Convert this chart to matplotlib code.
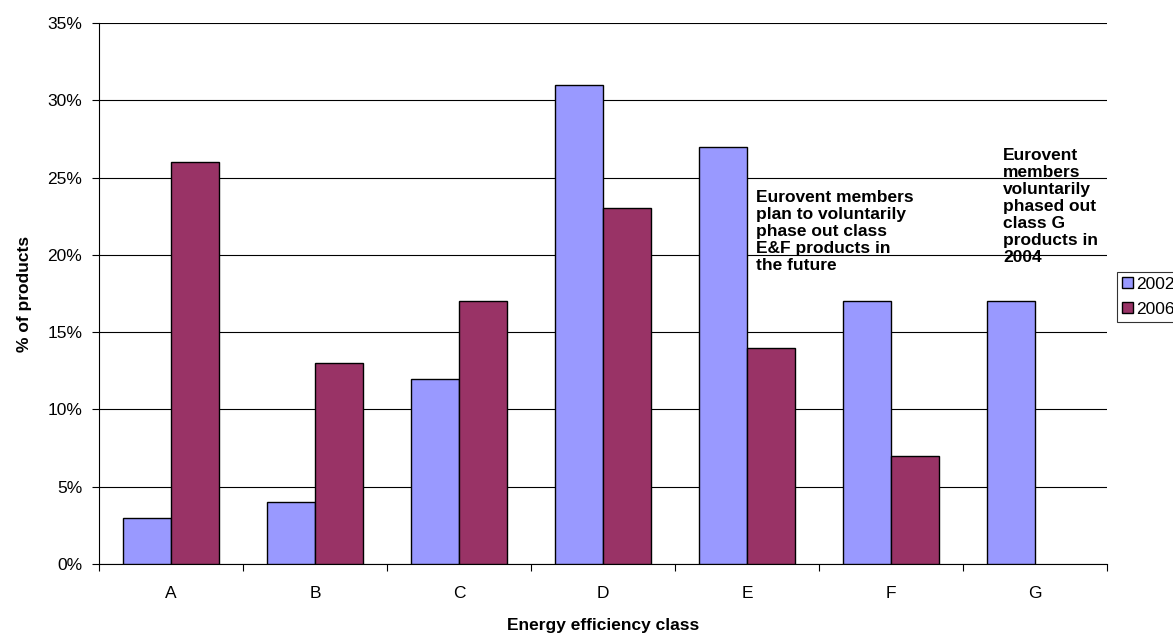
import matplotlib
matplotlib.use("Agg")
import matplotlib.pyplot as plt
import numpy as np
from matplotlib.ticker import FuncFormatter, FixedLocator

plt.rcParams['font.family'] = ['Liberation Sans', 'DejaVu Sans']

classes = ["A", "B", "C", "D", "E", "F", "G"]
share_2002 = [3, 4, 12, 31, 27, 17, 17]
share_2006 = [26, 13, 17, 23, 14, 7, 0]
series_labels = ["2002", "2006"]
yticks = [0, 5, 10, 15, 20, 25, 30, 35]

FS = 12.5

fig = plt.figure(figsize=(11.73, 6.34), dpi=100)
ax = fig.add_axes([0.0844, 0.1104, 0.8593, 0.8533])

x = np.arange(len(classes))
w = 1 / 3
ax.bar(x - w / 2, share_2002, width=w, color="#9999FF", edgecolor="black",
       linewidth=1.0, label=series_labels[0], zorder=3)
mask = np.array(share_2006) > 0
ax.bar(x[mask] + w / 2, np.array(share_2006)[mask], width=w, color="#993366",
       edgecolor="black", linewidth=1.0, label=series_labels[1], zorder=3)

ax.set_xlim(-0.5, len(classes) - 0.5)
ax.set_ylim(0, 35)
ax.set_yticks(yticks)
ax.yaxis.set_major_formatter(FuncFormatter(lambda v, p: f"{v:.0f}%"))
ax.yaxis.grid(True, color="black", linewidth=0.8, zorder=0)
ax.set_axisbelow(True)

ax.set_xticks(x)
ax.set_xticklabels(classes)
ax.xaxis.set_minor_locator(FixedLocator(np.arange(-0.5, len(classes), 1.0)))
ax.tick_params(axis="x", which="major", length=0, pad=16, labelsize=FS)
ax.tick_params(axis="x", which="minor", length=5, width=0.8, direction="out")
ax.tick_params(axis="y", length=5, width=0.8, direction="out", labelsize=FS, pad=7)

for s in ("top", "right"):
    ax.spines[s].set_visible(False)
ax.spines["left"].set_linewidth(0.8)
ax.spines["bottom"].set_linewidth(0.8)

ax.set_xlabel("Energy efficiency class", fontsize=FS, fontweight="bold", labelpad=12)
ax.set_ylabel("% of products", fontsize=FS, fontweight="bold", labelpad=11)

ax.text(4.06, 24.2,
        "Eurovent members\nplan to voluntarily\nphase out class\nE&F products in\nthe future",
        fontsize=FS, fontweight="bold", va="top", ha="left", linespacing=1.16, zorder=4)
ax.text(5.78, 26.9,
        "Eurovent\nmembers\nvoluntarily\nphased out\nclass G\nproducts in\n2004",
        fontsize=FS, fontweight="bold", va="top", ha="left", linespacing=1.16, zorder=4)

leg = ax.legend(loc="upper left", bbox_to_anchor=(1.0099, 0.54), frameon=True,
                fancybox=False, edgecolor="black", fontsize=FS, handlelength=0.6,
                handleheight=0.6, handletextpad=0.2, borderpad=0.3, labelspacing=0.55,
                borderaxespad=0)
leg.get_frame().set_linewidth(0.8)

fig.savefig("out.png", dpi=100)
